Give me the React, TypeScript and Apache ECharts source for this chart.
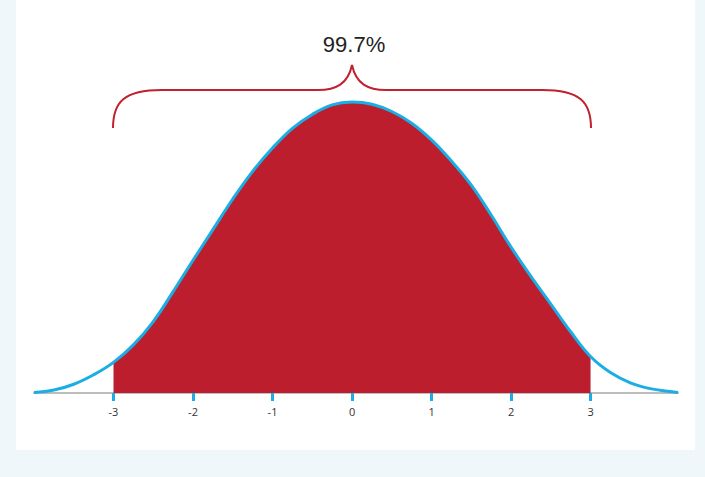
import React, { useEffect, useRef } from "react";
import * as echarts from "echarts";

// x positions (standard deviations) and curve heights
const xValues = [
  -4, -3.75, -3.5, -3.25, -3, -2.75, -2.5, -2.25, -2, -1.75, -1.5, -1.25, -1, -0.75, -0.5, -0.25, 0,
  0.25, 0.5, 0.75, 1, 1.25, 1.5, 1.75, 2, 2.25, 2.5, 2.75, 3, 3.25, 3.5, 3.75, 4, 4.1,
];
const density = [
  0.0007, 0.004, 0.012, 0.025, 0.042, 0.066, 0.098, 0.139, 0.182, 0.224, 0.266, 0.304, 0.336, 0.363, 0.382, 0.395, 0.399,
  0.396, 0.386, 0.37, 0.347, 0.318, 0.285, 0.244, 0.2, 0.16, 0.122, 0.084, 0.05, 0.028, 0.014, 0.006, 0.002, 0.0007,
];
const tickValues = [-3, -2, -1, 0, 1, 2, 3];
const shadeFrom = -3;
const shadeTo = 3;
const shadeLabel = "99.7%";

const bracePath =
  "M113 128 C113 102 124 90 162 90 L318 90 C336 90 348 84 352 65 C356 84 368 90 386 90 L542 90 C580 90 591 102 591 128";

echarts.graphic.registerShape("brace", (echarts.graphic as any).extendPath(bracePath, {}));

export default function App() {
  const ref = useRef<HTMLDivElement>(null);
  useEffect(() => {
    if (!ref.current) return;
    const chart = echarts.init(ref.current, null, { renderer: "svg" });
    const all = xValues.map((x, i) => [x, density[i]]);
    const shaded = all.filter((p) => p[0] >= shadeFrom && p[0] <= shadeTo);
    chart.setOption({
      animation: false,
      backgroundColor: "#eff7fb",
      grid: { left: 34, right: 27, top: 94, bottom: 84 },
      xAxis: {
        type: "value",
        min: -4,
        max: 4.1,
        interval: 1,
        splitLine: { show: false },
        axisLine: { show: true, onZero: false, lineStyle: { color: "#bdbdbd", width: 2 } },
        axisTick: {
          show: true,
          customValues: tickValues,
          length: 8,
          lineStyle: { color: "#1aaee5", width: 3 },
        },
        axisLabel: {
          show: true,
          customValues: tickValues,
          margin: 13,
          fontSize: 11,
          color: "#333",
          fontFamily: "Open Sans, sans-serif",
        },
      },
      yAxis: {
        type: "value",
        min: 0,
        max: 0.41,
        show: false,
      },
      graphic: [
        {
          type: "rect",
          z: -10,
          silent: true,
          shape: { x: 16, y: 0, width: 679, height: 450 },
          style: { fill: "#ffffff" },
        },
        {
          type: "brace",
          x: 0,
          y: 0,
          scaleX: 1,
          scaleY: 1,
          z: 10,
          style: { fill: "none", stroke: "#c0202f", lineWidth: 2 },
        },
        {
          type: "text",
          x: 354,
          y: 44,
          z: 10,
          style: {
            text: shadeLabel,
            fill: "#222",
            font: "22px 'Liberation Sans', Arial, sans-serif",
            textAlign: "center",
            textVerticalAlign: "middle",
          },
        },
      ],
      series: [
        {
          type: "line",
          data: shaded,
          smooth: 0.4,
          showSymbol: false,
          lineStyle: { width: 0 },
          areaStyle: { color: "#bc1e2d", opacity: 1 },
          z: 2,
        },
        {
          type: "line",
          data: all,
          smooth: 0.4,
          showSymbol: false,
          lineStyle: { color: "#1aaee5", width: 3 },
          z: 3,
        },
      ],
    });
    return () => chart.dispose();
  }, []);
  return <div ref={ref} style={{ position: "fixed", left: 0, top: 0, width: 705, height: 477 }} />;
}
